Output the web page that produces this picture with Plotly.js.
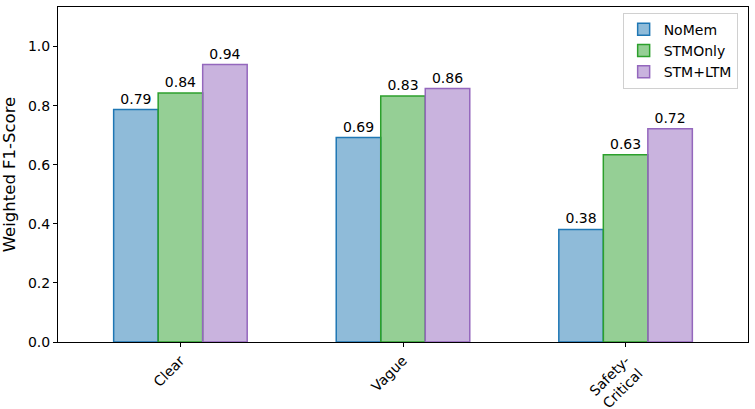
<!DOCTYPE html>
<html><head><meta charset="utf-8">
<script src="https://cdn.plot.ly/plotly-3.0.1.min.js"></script>
<style>html,body{margin:0;padding:0;background:#fff}#c{width:755px;height:409px}</style>
</head><body><div id="c"></div>
<script>
const categories = ["Clear", "Vague", "Safety-<br>Critical"];
const seriesNames = ["NoMem", "STMOnly", "STM+LTM"];
const noMem = [0.787, 0.692, 0.381];
const stmOnly = [0.843, 0.833, 0.634];
const stmLtm = [0.939, 0.858, 0.722];
const yTicks = [0.0, 0.2, 0.4, 0.6, 0.8, 1.0];

const fills = ["rgba(31,119,180,0.5)", "rgba(44,160,44,0.5)", "rgba(148,103,189,0.5)"];
const edges = ["#1f77b4", "#2ca02c", "#9467bd"];
const values = [noMem, stmOnly, stmLtm];
const xIdx = categories.map((_, i) => i);

const traces = values.map((v, k) => ({
  type: "bar", name: seriesNames[k], x: xIdx, y: v,
  marker: {color: fills[k], line: {color: edges[k], width: 1.5}},
  text: v.map(d => d.toFixed(2)), textposition: "outside",
  textfont: {family: "DejaVu Sans", size: 14, color: "#000"},
  cliponaxis: false, hoverinfo: "none"
}));

const layout = {
  width: 755, height: 409,
  margin: {l: 58, r: 7, t: 7, b: 67},
  paper_bgcolor: "#fff", plot_bgcolor: "#fff",
  barmode: "group", bargap: 0.4, bargroupgap: 0,
  font: {family: "DejaVu Sans", size: 14, color: "#000"},
  showlegend: true,
  legend: {x: 0.985, y: 0.983, xanchor: "right", yanchor: "top",
    bgcolor: "rgba(255,255,255,0.8)", bordercolor: "#d0d0d0", borderwidth: 1,
    font: {family: "DejaVu Sans", size: 14}, tracegroupgap: 2},
  xaxis: {range: [-0.55, 2.55], tickmode: "array", tickvals: xIdx, ticktext: categories,
    tickangle: -45, ticks: "outside", ticklen: 4, tickcolor: "#000",
    showline: true, mirror: true, linecolor: "#000", linewidth: 1,
    showgrid: false, zeroline: false, tickfont: {size: 14}},
  yaxis: {range: [0, 1.134], tickmode: "array", tickvals: yTicks,
    ticktext: yTicks.map(t => t.toFixed(1)),
    ticks: "outside", ticklen: 4, tickcolor: "#000",
    showline: true, mirror: true, linecolor: "#000", linewidth: 1,
    showgrid: false, zeroline: false, tickfont: {size: 14},
    title: {text: "Weighted F1-Score", font: {size: 16.5}, standoff: 8}}
};
Plotly.newPlot("c", traces, layout, {staticPlot: true, displayModeBar: false});
</script></body></html>
